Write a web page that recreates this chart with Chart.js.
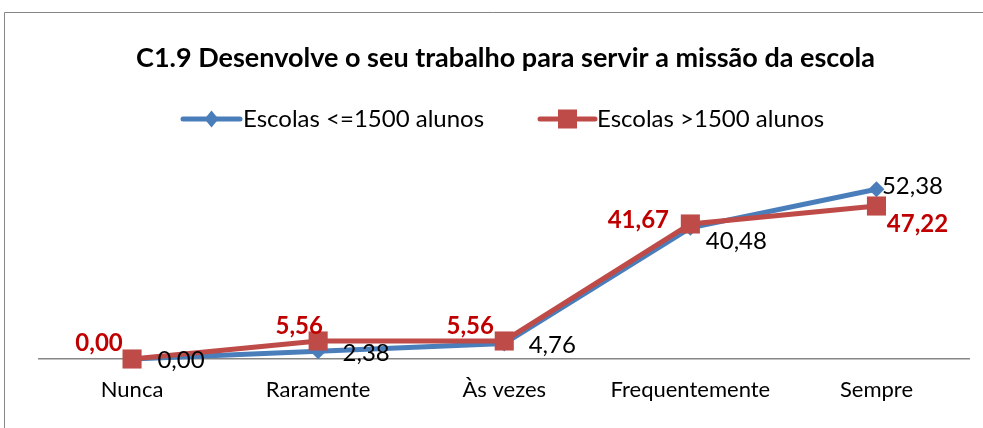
<!DOCTYPE html>
<html><head><meta charset="utf-8">
<script src="https://cdn.jsdelivr.net/npm/chart.js@4.4.0/dist/chart.umd.min.js"></script>
<style>html,body{margin:0;padding:0;background:#fff;}#wrap{width:983px;height:428px;position:relative;}</style>
</head><body><div id="wrap"><canvas id="c" width="983" height="428"></canvas></div>
<script>
// ---- data ----
const categories = ['Nunca', 'Raramente', 'Às vezes', 'Frequentemente', 'Sempre'];
const seriesNames = ['Escolas <=1500 alunos', 'Escolas >1500 alunos'];
const smallSchools = [0.00, 2.38, 4.76, 40.48, 52.38];
const largeSchools = [0.00, 5.56, 5.56, 41.67, 47.22];
const chartTitle = 'C1.9 Desenvolve o seu trabalho para servir a missão da escola';

// ---- styles ----
const BLUE = '#4A7EBB';
const RED = '#BE4B48';
const LABEL_RED = '#C00000';
const FONT = 'Lato';
// label offsets (text centre relative to point)
const smallLabelOffsets = [[49, 1], [48, 2], [48, 2], [46, 13], [36, -3]];
const largeLabelOffsets = [[-33, -16], [-19, -15], [-34, -15], [-52, -4], [41, 18]];

const fmt = v => v.toFixed(2).replace('.', ',');

const framePlugin = {
  id: 'frame',
  beforeDraw(chart) {
    const ctx = chart.ctx;
    ctx.save();
    ctx.fillStyle = '#fff';
    ctx.fillRect(0, 0, chart.width, chart.height);
    ctx.strokeStyle = '#868686';
    ctx.lineWidth = 1;
    ctx.beginPath();
    ctx.moveTo(4.5, chart.height);
    ctx.lineTo(4.5, 12.5);
    ctx.lineTo(chart.width, 12.5);
    ctx.stroke();
    ctx.restore();
  }
};

function drawMarker(ctx, style, x, y, color) {
  ctx.fillStyle = color;
  ctx.beginPath();
  if (style === 'diamond') {
    ctx.moveTo(x, y - 8.5); ctx.lineTo(x + 7, y); ctx.lineTo(x, y + 8.5); ctx.lineTo(x - 7, y);
  } else {
    ctx.rect(x - 9.5, y - 9.5, 19, 19);
  }
  ctx.closePath();
  ctx.fill();
}

const legendPlugin = {
  id: 'customLegend',
  afterDraw(chart) {
    const ctx = chart.ctx;
    const items = [
      {text: seriesNames[0], color: BLUE, marker: 'diamond', x0: 183, x1: 240, tx: 243},
      {text: seriesNames[1], color: RED, marker: 'square', x0: 540, x1: 595, tx: 597}
    ];
    const y = 119;
    ctx.save();
    items.forEach(it => {
      ctx.strokeStyle = it.color;
      ctx.lineWidth = 5;
      ctx.lineCap = 'round';
      ctx.beginPath(); ctx.moveTo(it.x0, y); ctx.lineTo(it.x1, y); ctx.stroke();
      drawMarker(ctx, it.marker, (it.x0 + it.x1) / 2, y, it.color);
      ctx.fillStyle = '#000';
      ctx.font = '24px ' + FONT;
      ctx.textAlign = 'left';
      ctx.textBaseline = 'middle';
      ctx.fillText(it.text, it.tx, y);
    });
    ctx.restore();
  }
};

const labelPlugin = {
  id: 'valueLabels',
  afterDatasetsDraw(chart) {
    const ctx = chart.ctx;
    ctx.save();
    ctx.textAlign = 'center';
    ctx.textBaseline = 'middle';
    chart.data.datasets.forEach((ds, i) => {
      const meta = chart.getDatasetMeta(i);
      const offs = i === 0 ? smallLabelOffsets : largeLabelOffsets;
      ctx.font = (i === 0 ? '' : 'bold ') + '24px ' + FONT;
      ctx.fillStyle = i === 0 ? '#000' : LABEL_RED;
      meta.data.forEach((pt, j) => {
        ctx.fillText(fmt(ds.data[j]), pt.x + offs[j][0], pt.y + offs[j][1]);
      });
    });
    ctx.restore();
  }
};

new Chart(document.getElementById('c'), {
  type: 'line',
  data: {
    labels: categories,
    datasets: [
      {
        label: seriesNames[0], data: smallSchools,
        borderColor: BLUE, backgroundColor: BLUE, borderWidth: 5,
        pointStyle: 'rectRot', pointRadius: 8, pointBorderWidth: 0,
        pointBackgroundColor: BLUE, tension: 0, order: 2, clip: false
      },
      {
        label: seriesNames[1], data: largeSchools,
        borderColor: RED, backgroundColor: RED, borderWidth: 5,
        pointStyle: 'rect', pointRadius: 13.5, pointBorderWidth: 0,
        pointBackgroundColor: RED, tension: 0, order: 1, clip: false
      }
    ]
  },
  options: {
    responsive: false,
    animation: false,
    devicePixelRatio: 1,
    layout: {padding: {left: 39, right: 11, top: 0, bottom: 7}},
    plugins: {
      legend: {display: false},
      tooltip: {enabled: false},
      title: {
        display: true, text: chartTitle, color: '#000',
        font: {family: FONT, size: 27, weight: 'bold', lineHeight: 1.2},
        padding: {top: 41.8, bottom: 90.4}
      }
    },
    scales: {
      x: {
        offset: true,
        grid: {display: false, drawTicks: false},
        border: {display: true, color: '#868686', width: 1.5},
        ticks: {color: '#000', padding: 17.8, font: {family: FONT, size: 22, lineHeight: 1.2}, maxRotation: 0}
      },
      y: {
        display: false, min: 0, max: 60
      }
    }
  },
  plugins: [framePlugin, legendPlugin, labelPlugin]
});
</script></body></html>
